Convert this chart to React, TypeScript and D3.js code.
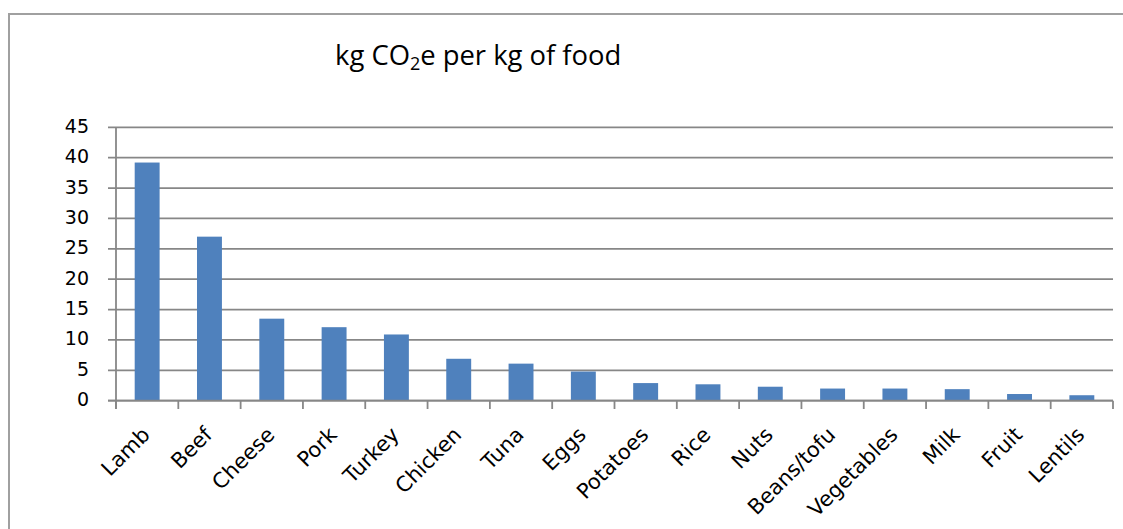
import React from "react";
import * as d3 from "d3";

const categories = [
  "Lamb", "Beef", "Cheese", "Pork", "Turkey", "Chicken", "Tuna", "Eggs",
  "Potatoes", "Rice", "Nuts", "Beans/tofu", "Vegetables", "Milk", "Fruit", "Lentils",
];
const emissions = [39.2, 27.0, 13.5, 12.1, 10.9, 6.9, 6.1, 4.8, 2.9, 2.7, 2.3, 2.0, 2.0, 1.9, 1.1, 0.9];
const yTicks = [0, 5, 10, 15, 20, 25, 30, 35, 40, 45];

const W = 1123;
const H = 529;
const TITLE_FONT = "'Open Sans', 'Noto Sans', sans-serif";
const LABEL_FONT = "'DejaVu Sans', 'Noto Sans', sans-serif";
const GRID = "#878787";
const BAR = "#4F81BD";

export default function App() {
  const left = 116;
  const right = 1113;
  const top = 127.3;
  const bottom = 400.7;

  const x = d3.scaleBand<string>().domain(categories).range([left, right]).padding(0);
  const y = d3.scaleLinear().domain([0, 45]).range([bottom, top]);
  const step = x.step();
  const barW = step * 0.4;

  return (
    <svg
      width={W}
      height={H}
      style={{ position: "absolute", left: 0, top: 0, background: "#fff" }}
    >
      {/* chart frame (continues past the right and bottom edges) */}
      <path d={`M9,${H + 5} V14 H${W + 5}`} fill="none" stroke="#a0a0a0" strokeWidth={2} />

      {/* title */}
      <text x={335} y={65} fontFamily={TITLE_FONT} fontSize={27.4} fill="#000">
        kg CO<tspan fontSize={18} dy={5}>2</tspan>
        <tspan dy={-5}>e per kg of food</tspan>
      </text>

      {/* horizontal gridlines and y labels */}
      {yTicks.map((t) => (
        <g key={t}>
          <line x1={108} x2={right} y1={y(t)} y2={y(t)} stroke={GRID} strokeWidth={1.8} />
          <text
            x={89}
            y={y(t)}
            dy={5.5}
            textAnchor="end"
            fontFamily={LABEL_FONT}
            fontSize={19}
            fill="#000"
          >
            {t}
          </text>
        </g>
      ))}

      {/* y axis line */}
      <line x1={left} x2={left} y1={top} y2={409} stroke={GRID} strokeWidth={1.8} />

      {/* x tick marks */}
      {d3.range(categories.length + 1).map((i) => (
        <line
          key={i}
          x1={left + i * step}
          x2={left + i * step}
          y1={bottom}
          y2={409}
          stroke={GRID}
          strokeWidth={1.8}
        />
      ))}

      {/* bars */}
      {categories.map((c, i) => {
        const cx = (x(c) as number) + step / 2;
        return (
          <rect
            key={c}
            x={cx - barW / 2}
            y={y(emissions[i])}
            width={barW}
            height={bottom - y(emissions[i])}
            fill={BAR}
          />
        );
      })}

      {/* x axis line */}
      <line x1={108} x2={right} y1={bottom} y2={bottom} stroke={GRID} strokeWidth={1.8} />

      {/* category labels */}
      {categories.map((c) => {
        const cx = (x(c) as number) + step / 2;
        return (
          <text
            key={c}
            transform={`translate(${cx + 4},${436}) rotate(-45)`}
            textAnchor="end"
            fontFamily={LABEL_FONT}
            fontSize={21}
            fill="#000"
          >
            {c}
          </text>
        );
      })}
    </svg>
  );
}
